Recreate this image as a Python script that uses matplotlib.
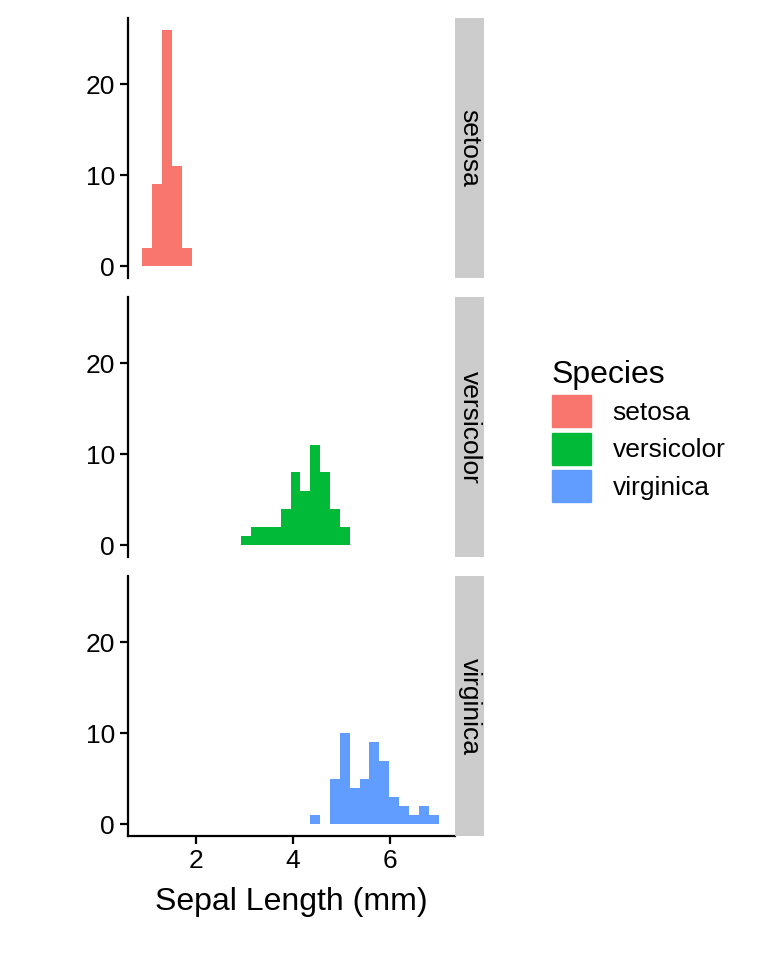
import numpy as np
import matplotlib.pyplot as plt
from matplotlib.patches import Patch

plt.rcParams['font.family'] = ['Arial', 'Liberation Sans', 'DejaVu Sans']

species = ['setosa', 'versicolor', 'virginica']
colors = ['#F8766D', '#00BA38', '#619CFF']
# 30 bins, ggplot style, over petal length range 1.0 - 6.9
lo, hi, nbins = 1.0, 6.9, 30
width = (hi - lo) / (nbins - 1)
edges = lo - width / 2 + width * np.arange(nbins + 1)
counts = {
    'setosa': {0: [2, 9, 26, 11, 2]},
    'versicolor': {10: [1, 2, 2, 2, 4, 8, 6, 11, 8, 4, 2]},
    'virginica': {17: [1, 0, 5, 10, 4, 5, 9, 7, 3, 2, 1, 2, 1]},
}

fig = plt.figure(figsize=(7.68, 9.6), dpi=100)
W, H = 768, 960
top_px = [18, 297, 576]
ph = 260
for i, sp in enumerate(species):
    ax = fig.add_axes([128 / W, 1 - (top_px[i] + ph) / H, (455 - 128) / W, ph / H])
    start, vals = list(counts[sp].items())[0]
    full = np.zeros(nbins)
    full[start:start + len(vals)] = vals
    ax.bar(edges[:-1], full, width=width, align='edge', color=colors[i], linewidth=0)
    ax.set_xlim(0.6, 7.34)
    ax.set_ylim(-1.3, 27.3)
    ax.set_yticks([0, 10, 20])
    ax.set_xticks([2, 4, 6])
    for s in ['top', 'right']:
        ax.spines[s].set_visible(False)
    ax.spines['left'].set_linewidth(1.6)
    ax.spines['bottom'].set_linewidth(1.6)
    ax.tick_params(labelsize=19, width=1.6, length=6, colors='black')
    if i < 2:
        ax.spines['bottom'].set_visible(False)
        ax.tick_params(axis='x', bottom=False, labelbottom=False)
    else:
        ax.set_xlabel('Sepal Length (mm)', fontsize=23, labelpad=10)
    # strip
    sax = fig.add_axes([455 / W, 1 - (top_px[i] + ph) / H, 29 / W, ph / H])
    sax.set_facecolor('#CCCCCC')
    sax.set_xticks([])
    sax.set_yticks([])
    for s in sax.spines.values():
        s.set_visible(False)
    sax.text(0.5, 0.5, sp, rotation=-90, ha='center', va='center', fontsize=19,
             transform=sax.transAxes)

handles = [Patch(color=c, label=s) for c, s in zip(colors, species)]
fig.legend(handles=handles, title='Species', loc='upper left',
           bbox_to_anchor=(528 / W, 1 - 336 / H), frameon=False, fontsize=19,
           title_fontsize=23, handlelength=1.5, handleheight=1.5,
           handletextpad=0.8, labelspacing=0.2, alignment='left')

fig.savefig('out.png', dpi=100)
